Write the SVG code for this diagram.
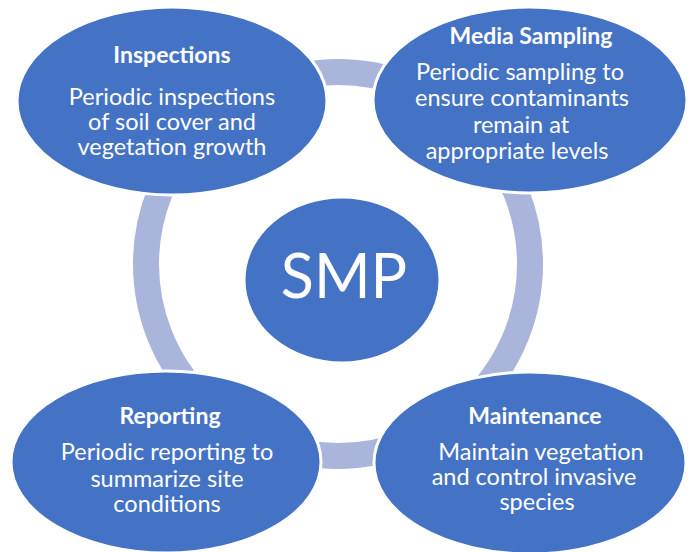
<svg xmlns="http://www.w3.org/2000/svg" width="691" height="552" viewBox="0 0 691 552">
<style>
.node{fill:#4472c4;stroke:#ffffff;stroke-width:3}
.ring{fill:none;stroke:#aab5dc;stroke-width:26}
text{font-family:Lato,"Open Sans","Liberation Sans",sans-serif;fill:#ffffff;text-anchor:middle}
.t{font-weight:bold;font-size:23px}
.b{font-size:23.5px}
.c{font-size:61px}
</style>
<rect width="691" height="552" fill="#ffffff"/>
<g id="connectors">
<circle class="ring" cx="338" cy="264" r="192"/>
</g>
<g id="smp">
<ellipse class="node" cx="342" cy="280" rx="98" ry="83"/>
<text class="c" x="344" y="298">SMP</text>
</g>
<g id="inspections">
<ellipse class="node" cx="172" cy="101" rx="155" ry="94"/>
<text class="t" x="172" y="63">Inspections</text>
<text class="b" x="172" y="105">Periodic inspections</text>
<text class="b" x="172" y="130">of soil cover and</text>
<text class="b" x="172" y="155">vegetation growth</text>
</g>
<g id="media-sampling">
<ellipse class="node" cx="530" cy="100" rx="157" ry="93"/>
<text class="t" x="531" y="44">Media Sampling</text>
<text class="b" x="520" y="80">Periodic sampling to</text>
<text class="b" x="522" y="106">ensure contaminants</text>
<text class="b" x="521" y="133">remain at</text>
<text class="b" x="517" y="159">appropriate levels</text>
</g>
<g id="reporting">
<ellipse class="node" cx="166" cy="462" rx="155" ry="91"/>
<text class="t" x="170" y="424">Reporting</text>
<text class="b" x="167" y="460">Periodic reporting to</text>
<text class="b" x="167" y="487">summarize site</text>
<text class="b" x="167" y="512">conditions</text>
</g>
<g id="maintenance">
<ellipse class="node" cx="530" cy="463" rx="156" ry="91"/>
<text class="t" x="535" y="424">Maintenance</text>
<text class="b" x="541" y="460">Maintain vegetation</text>
<text class="b" x="534" y="485">and control invasive</text>
<text class="b" x="537" y="510">species</text>
</g>
</svg>
